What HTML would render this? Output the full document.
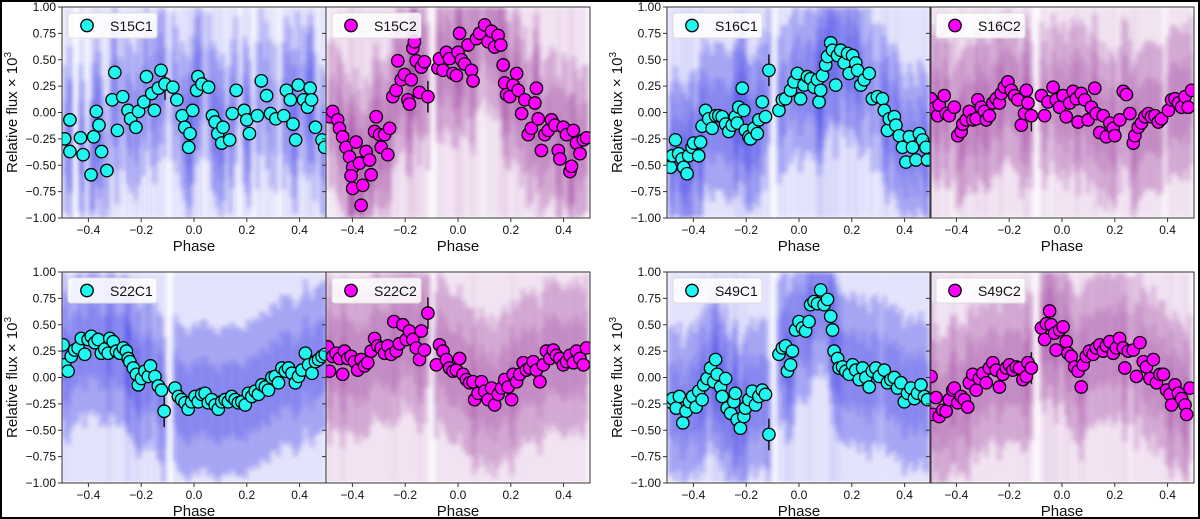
<!DOCTYPE html>
<html><head><meta charset="utf-8">
<style>
html,body{margin:0;padding:0;background:#fff;}
svg{display:block;}
text{font-family:"Liberation Sans","DejaVu Sans",sans-serif;fill:#111;}
</style></head>
<body>
<svg id="chart" width="1200" height="519" viewBox="0 0 1200 519" xmlns="http://www.w3.org/2000/svg">
<defs>
<filter id="blur" x="-5%" y="-5%" width="110%" height="110%"><feGaussianBlur stdDeviation="2"/></filter>
</defs>
<rect x="0" y="0" width="1200" height="519" fill="#fff"/>
</svg>
<script>
// ---- data: phase / relative flux arrays per panel ----
const S15C1_phase=[-0.49,-0.47,-0.47,-0.43,-0.42,-0.39,-0.38,-0.37,-0.36,-0.35,-0.33,-0.31,-0.30,-0.29,-0.27,-0.25,-0.24,-0.22,-0.21,-0.19,-0.18,-0.16,-0.15,-0.135,-0.125,-0.11,-0.08,-0.065,-0.045,-0.035,-0.02,-0.015,-0.005,0.01,0.015,0.03,0.055,0.07,0.08,0.09,0.105,0.11,0.135,0.145,0.16,0.19,0.2,0.21,0.24,0.255,0.275,0.29,0.31,0.34,0.35,0.365,0.375,0.385,0.395,0.415,0.43,0.44,0.445,0.46,0.485,0.495];
const S15C1_flux=[-0.25,-0.07,-0.37,-0.24,-0.40,-0.59,-0.23,0.01,-0.12,-0.37,-0.55,0.12,0.38,-0.17,0.15,0.02,-0.06,-0.14,0.01,0.10,0.34,0.18,0.02,0.23,0.40,0.27,0.24,0.12,-0.03,-0.14,-0.33,-0.20,0.02,0.21,0.34,0.27,0.24,-0.03,-0.09,-0.20,-0.29,-0.14,-0.26,-0.01,0.21,0.02,-0.07,-0.2,-0.03,0.3,0.16,-0.01,-0.06,-0.03,0.21,0.12,-0.11,-0.26,0.26,0.12,0.05,0.23,0.12,-0.14,-0.26,-0.33];

const S15C2_phase=[-0.487,-0.475,-0.456,-0.449,-0.437,-0.424,-0.411,-0.399,-0.405,-0.399,-0.386,-0.373,-0.367,-0.361,-0.348,-0.335,-0.329,-0.316,-0.31,-0.297,-0.291,-0.278,-0.266,-0.259,-0.247,-0.234,-0.228,-0.215,-0.203,-0.19,-0.184,-0.177,-0.171,-0.165,-0.158,-0.146,-0.139,-0.127,-0.114,-0.076,-0.07,-0.057,-0.044,-0.032,-0.019,-0.006,0,0.006,0.013,0.025,0.038,0.051,0.057,0.07,0.082,0.101,0.114,0.127,0.139,0.152,0.162,0.171,0.177,0.184,0.196,0.209,0.222,0.228,0.241,0.253,0.266,0.278,0.291,0.297,0.304,0.316,0.329,0.342,0.354,0.367,0.38,0.386,0.399,0.411,0.424,0.43,0.437,0.449,0.462,0.475,0.487];
const S15C2_flux=[-0.04,0.01,-0.07,-0.15,-0.23,-0.33,-0.42,-0.52,-0.6,-0.72,-0.28,-0.48,-0.88,-0.69,-0.37,-0.45,-0.59,-0.18,-0.04,-0.21,-0.33,-0.21,-0.4,-0.15,0.15,0.21,0.49,0.31,0.36,0.12,0.08,0.31,0.61,0.67,0.49,0.19,0.43,0.48,0.15,0.42,0.51,0.40,0.57,0.51,0.37,0.35,0.57,0.75,0.5,0.46,0.64,0.4,0.3,0.7,0.75,0.83,0.67,0.77,0.62,0.73,0.64,0.45,0.28,0.17,0.15,0.26,0.37,0.21,-0.01,0.12,-0.21,-0.15,0.09,0.23,-0.06,-0.36,-0.21,-0.17,-0.07,-0.12,-0.36,-0.44,-0.14,-0.21,-0.56,-0.51,-0.17,-0.29,-0.39,-0.26,-0.24];

const S16C1_phase=[-0.487,-0.48,-0.468,-0.456,-0.443,-0.437,-0.424,-0.418,-0.405,-0.399,-0.38,-0.373,-0.367,-0.354,-0.342,-0.329,-0.316,-0.304,-0.291,-0.278,-0.266,-0.253,-0.241,-0.234,-0.228,-0.215,-0.209,-0.203,-0.19,-0.184,-0.171,-0.158,-0.152,-0.139,-0.127,-0.114,-0.076,-0.063,-0.051,-0.032,-0.019,-0.006,0.006,0.019,0.032,0.044,0.057,0.07,0.076,0.082,0.089,0.101,0.108,0.12,0.127,0.139,0.146,0.158,0.171,0.184,0.19,0.203,0.215,0.222,0.234,0.247,0.266,0.278,0.297,0.316,0.323,0.335,0.342,0.361,0.367,0.38,0.392,0.405,0.418,0.43,0.443,0.456,0.468,0.481,0.487];
const S16C1_flux=[-0.52,-0.41,-0.26,-0.39,-0.44,-0.52,-0.58,-0.41,-0.33,-0.29,-0.41,-0.28,-0.13,0.02,-0.06,-0.15,-0.03,-0.03,-0.04,-0.11,-0.18,-0.12,-0.04,-0.1,0.05,0.23,0.02,-0.17,-0.23,-0.25,-0.15,-0.2,-0.07,0.1,-0.04,0.4,0.02,0.12,0.13,0.21,0.29,0.37,0.13,0.26,0.34,0.32,0.24,0.31,0.1,0.21,0.35,0.45,0.53,0.66,0.59,0.26,0.54,0.59,0.47,0.56,0.37,0.54,0.47,0.4,0.26,0.31,0.37,0.13,0.15,0.13,0.02,-0.17,-0.06,-0.04,-0.12,-0.22,-0.33,-0.47,-0.23,-0.33,-0.45,-0.2,-0.26,-0.33,-0.45];

const S16C2_phase=[-0.496,-0.484,-0.471,-0.465,-0.446,-0.439,-0.427,-0.408,-0.395,-0.382,-0.376,-0.363,-0.351,-0.338,-0.325,-0.319,-0.306,-0.294,-0.287,-0.275,-0.262,-0.249,-0.237,-0.23,-0.218,-0.205,-0.192,-0.18,-0.167,-0.154,-0.142,-0.135,-0.129,-0.116,-0.078,-0.066,-0.053,-0.034,-0.022,-0.009,0.004,0.016,0.029,0.042,0.054,0.061,0.073,0.086,0.099,0.111,0.124,0.13,0.143,0.156,0.168,0.181,0.194,0.2,0.219,0.232,0.244,0.257,0.27,0.276,0.289,0.301,0.314,0.327,0.339,0.352,0.365,0.377,0.403,0.415,0.428,0.441,0.453,0.466,0.478,0.491];
const S16C2_flux=[0.13,0.04,-0.03,0.07,0.16,-0.01,-0.03,0.05,-0.22,-0.18,-0.11,-0.07,0.01,-0.07,-0.06,0.12,0.05,0.01,-0.07,-0.03,0.09,0.13,0.09,0.18,0.24,0.29,0.21,0.16,0.12,-0.12,-0.01,0.21,0.09,-0.03,0.16,-0.03,0.1,0.24,0.12,0.05,0.16,-0.04,0.09,0.2,0.13,-0.09,0.18,0.12,-0.07,0.05,0.23,-0.01,-0.19,-0.03,-0.23,-0.1,-0.15,-0.22,-0.07,0.2,0.17,-0.01,-0.29,-0.22,-0.14,-0.1,-0.04,-0.01,-0.04,-0.03,-0.09,-0.06,0.02,0.12,0.13,0.09,0.05,0.15,0.05,0.21];

const S22C1_phase=[-0.496,-0.49,-0.477,-0.465,-0.452,-0.439,-0.427,-0.414,-0.401,-0.389,-0.376,-0.363,-0.351,-0.338,-0.325,-0.319,-0.306,-0.294,-0.281,-0.268,-0.256,-0.249,-0.243,-0.23,-0.218,-0.211,-0.199,-0.186,-0.173,-0.165,-0.148,-0.135,-0.123,-0.113,-0.072,-0.059,-0.047,-0.034,-0.022,-0.009,0.004,0.016,0.029,0.042,0.054,0.067,0.08,0.092,0.105,0.118,0.13,0.143,0.156,0.168,0.181,0.194,0.206,0.219,0.232,0.244,0.257,0.27,0.282,0.295,0.308,0.32,0.333,0.346,0.358,0.371,0.384,0.396,0.409,0.422,0.434,0.447,0.46,0.472,0.485,0.497];
const S22C1_flux=[0.31,0.12,0.06,0.2,0.26,0.28,0.37,0.22,0.36,0.39,0.33,0.36,0.23,0.27,0.23,0.37,0.34,0.25,0.23,0.28,0.25,0.18,0.15,0.09,0.03,-0.07,-0.01,0.06,0.01,0.11,0.01,-0.08,-0.12,-0.32,-0.1,-0.18,-0.21,-0.24,-0.3,-0.23,-0.18,-0.23,-0.16,-0.15,-0.24,-0.21,-0.26,-0.3,-0.23,-0.21,-0.23,-0.18,-0.21,-0.24,-0.23,-0.26,-0.15,-0.18,-0.13,-0.16,-0.07,-0.09,-0.12,0.0,0.01,-0.05,0.09,0.06,0.09,0.04,-0.05,0.01,0.07,0.23,0.12,0.04,0.15,0.17,0.2,0.22];

const S22C2_phase=[-0.494,-0.487,-0.475,-0.462,-0.449,-0.437,-0.43,-0.418,-0.405,-0.392,-0.38,-0.367,-0.354,-0.342,-0.329,-0.316,-0.304,-0.291,-0.278,-0.266,-0.253,-0.243,-0.234,-0.222,-0.209,-0.196,-0.184,-0.171,-0.158,-0.146,-0.139,-0.127,-0.114,-0.082,-0.07,-0.057,-0.044,-0.032,-0.019,-0.006,0.006,0.019,0.032,0.044,0.057,0.063,0.076,0.089,0.101,0.114,0.127,0.139,0.152,0.165,0.177,0.19,0.203,0.209,0.222,0.234,0.247,0.259,0.272,0.285,0.297,0.31,0.323,0.335,0.348,0.361,0.373,0.386,0.399,0.411,0.424,0.437,0.449,0.462,0.475,0.487];
const S22C2_flux=[0.29,0.06,0.2,0.23,0.18,0.03,0.25,0.18,0.2,0.15,0.07,0.17,0.11,0.14,0.25,0.37,0.3,0.28,0.23,0.3,0.22,0.53,0.25,0.32,0.5,0.36,0.44,0.36,0.28,0.17,0.44,0.26,0.61,0.12,0.31,0.25,0.17,0.09,0.06,0.07,0.18,0.03,-0.02,-0.05,-0.04,-0.21,-0.15,-0.04,-0.13,-0.21,-0.1,-0.26,-0.16,-0.1,-0.02,-0.09,-0.21,0.03,-0.04,0.03,0.14,0.07,0.09,0.15,0.07,-0.04,0.12,0.25,0.18,0.26,0.21,0.18,0.12,0.15,0.21,0.14,0.25,0.18,0.12,0.28];

const S49C1_phase=[-0.49,-0.478,-0.465,-0.453,-0.44,-0.428,-0.415,-0.403,-0.39,-0.38,-0.367,-0.361,-0.348,-0.335,-0.323,-0.316,-0.31,-0.297,-0.291,-0.278,-0.272,-0.259,-0.247,-0.241,-0.234,-0.222,-0.209,-0.203,-0.19,-0.177,-0.165,-0.152,-0.139,-0.127,-0.114,-0.076,-0.063,-0.051,-0.044,-0.032,-0.025,-0.013,0,0.013,0.025,0.038,0.044,0.057,0.07,0.082,0.095,0.108,0.12,0.127,0.133,0.146,0.152,0.165,0.177,0.19,0.203,0.215,0.228,0.241,0.253,0.266,0.278,0.291,0.304,0.323,0.335,0.348,0.361,0.373,0.386,0.399,0.411,0.424,0.437,0.449,0.462,0.475,0.487];
const S49C1_flux=[-0.23,-0.2,-0.29,-0.18,-0.43,-0.32,-0.23,-0.18,-0.28,-0.13,-0.21,-0.07,-0.01,0.09,-0.04,0.17,0.03,-0.09,-0.18,-0.01,-0.29,-0.34,-0.23,-0.15,-0.4,-0.48,-0.37,-0.29,-0.21,-0.13,-0.26,-0.18,-0.12,-0.16,-0.54,0.22,0.28,0.3,0.06,0.12,0.25,0.45,0.53,0.47,0.44,0.53,0.69,0.72,0.7,0.83,0.69,0.74,0.58,0.45,0.25,0.18,0.09,0.1,0.06,0.03,0.12,0.07,-0.02,0.09,0.0,-0.09,0.06,0.09,0.01,0.07,-0.05,-0.02,0.0,-0.1,-0.05,-0.23,-0.15,-0.1,-0.2,-0.15,-0.07,-0.18,-0.21];

const S49C2_phase=[-0.496,-0.49,-0.477,-0.465,-0.452,-0.439,-0.427,-0.414,-0.408,-0.395,-0.382,-0.37,-0.357,-0.351,-0.338,-0.325,-0.313,-0.3,-0.287,-0.275,-0.262,-0.249,-0.237,-0.224,-0.211,-0.199,-0.186,-0.173,-0.161,-0.148,-0.135,-0.129,-0.116,-0.078,-0.066,-0.059,-0.047,-0.041,-0.028,-0.022,-0.009,0.004,0.016,0.023,0.035,0.048,0.061,0.073,0.08,0.092,0.104,0.118,0.13,0.143,0.156,0.168,0.181,0.194,0.206,0.218,0.232,0.238,0.251,0.27,0.282,0.295,0.308,0.32,0.333,0.346,0.358,0.371,0.384,0.396,0.409,0.415,0.428,0.441,0.453,0.466,0.472,0.485];
const S49C2_flux=[0.01,-0.35,-0.19,-0.37,-0.31,-0.32,-0.21,-0.12,-0.1,-0.24,-0.18,-0.21,-0.28,-0.05,0.03,-0.12,-0.01,0.04,-0.05,0.09,0.14,0.07,-0.09,0.03,0.09,0.12,0.07,0.1,0.09,-0.02,0.01,0.14,0.09,0.47,0.36,0.51,0.63,0.5,0.42,0.26,0.45,0.48,0.34,0.23,0.2,0.1,0.06,-0.09,0.12,0.2,0.25,0.22,0.28,0.31,0.25,0.3,0.34,0.23,0.28,0.37,0.28,0.09,0.25,0.26,0.01,0.33,0.15,0.1,-0.01,0.17,-0.05,0.03,0.03,-0.12,-0.16,-0.26,-0.07,-0.15,-0.2,-0.26,-0.35,-0.1];

const xTicks=[-0.4,-0.2,0.0,0.2,0.4];
const xTickLabels=["\u22120.4","\u22120.2","0.0","0.2","0.4"];
const yTicks=[1,0.75,0.5,0.25,0,-0.25,-0.5,-0.75,-1];
const yTickLabels=["1.00","0.75","0.50","0.25","0.00","\u22120.25","\u22120.50","\u22120.75","\u22121.00"];
const labels=["S15C1","S15C2","S16C1","S16C2","S22C1","S22C2","S49C1","S49C2"];

// ---- layout ----
const NS="http://www.w3.org/2000/svg";
const svg=document.getElementById('chart');
function mk(tag,attrs,parent){const e=document.createElementNS(NS,tag);for(const k in attrs)e.setAttribute(k,attrs[k]);(parent||svg).appendChild(e);return e;}
const W=264,H=211;
const panels=[
 {lab:labels[0],ph:S15C1_phase,fl:S15C1_flux,x0:62,y0:7,c1:true,first:true},
 {lab:labels[1],ph:S15C2_phase,fl:S15C2_flux,x0:326,y0:7,c1:false,first:false},
 {lab:labels[2],ph:S16C1_phase,fl:S16C1_flux,x0:667,y0:7,c1:true,first:true},
 {lab:labels[3],ph:S16C2_phase,fl:S16C2_flux,x0:930,y0:7,c1:false,first:false},
 {lab:labels[4],ph:S22C1_phase,fl:S22C1_flux,x0:62,y0:272,c1:true,first:true},
 {lab:labels[5],ph:S22C2_phase,fl:S22C2_flux,x0:326,y0:272,c1:false,first:false},
 {lab:labels[6],ph:S49C1_phase,fl:S49C1_flux,x0:667,y0:272,c1:true,first:true},
 {lab:labels[7],ph:S49C2_phase,fl:S49C2_flux,x0:930,y0:272,c1:false,first:false}
];

panels.forEach((p,pi)=>{
  const xs=v=>p.x0+(v+0.5)*W;
  const ys=v=>p.y0+(1-v)/2*H;
  const g=mk('g',{});
  
  
  const clip='clip'+pi;
  const cp=mk('clipPath',{id:clip},g);mk('rect',{x:p.x0,y:p.y0,width:W,height:H},cp);
  // background cloud derived from binned data
  const cloud=mk('g',{'clip-path':'url(#'+clip+')'},g);
  
  
  const inner=mk('g',{filter:'url(#blur)'},cloud);
  const col=p.c1?'rgb(40,40,225)':'rgb(150,45,150)';
  p.ph.forEach((ph,i)=>{
    const v=p.fl[i];
    mk('rect',{x:xs(ph)-3,y:p.y0,width:6,height:H,fill:col,opacity:0.08},inner);
    const top=Math.min(1,v+0.7),bot=Math.max(-1,v-0.7);
    mk('rect',{x:xs(ph)-3,y:ys(top),width:6,height:ys(bot)-ys(top),fill:col,opacity:0.2},inner);
    const t2=Math.min(1,v+0.35),b2=Math.max(-1,v-0.35);
    mk('rect',{x:xs(ph)-3,y:ys(t2),width:6,height:ys(b2)-ys(t2),fill:col,opacity:0.15},inner);
  });
  // error bar at the outlier bin nearest phase -0.114
  let bi=0,bd=9;p.ph.forEach((ph,i)=>{const d=Math.abs(ph+0.114);if(d<bd){bd=d;bi=i;}});
  const eb=mk('line',{x1:xs(p.ph[bi]),x2:xs(p.ph[bi]),y1:ys(p.fl[bi]+0.15),y2:ys(p.fl[bi]-0.15),stroke:'#111','stroke-width':1.5},g);
  
  
  // binned points
  const pts=mk('g',{'clip-path':'url(#'+clip+')'},g);
  
  
  p.ph.forEach((ph,i)=>{
    const c=mk('circle',{cx:xs(ph),cy:ys(p.fl[i]),r:6.2,fill:p.c1?'#1ff7f0':'#ff00ff',stroke:'#000','stroke-width':1.3},pts);
    
    
  });
  // axes frame
  const ax=mk('rect',{x:p.x0,y:p.y0,width:W,height:H,fill:'none',stroke:'#333','stroke-width':1},g);
  
  
  // x ticks
  xTicks.forEach((t,i)=>{
    mk('line',{x1:xs(t),x2:xs(t),y1:p.y0+H,y2:p.y0+H+4,stroke:'#333'},g);
    const tl=mk('text',{x:xs(t),y:p.y0+H+16,'text-anchor':'middle','font-size':12},g);
    tl.textContent=xTickLabels[i];
    
    
  });
  const xl=mk('text',{x:p.x0+W/2,y:p.y0+H+33,'text-anchor':'middle','font-size':15},g);
  xl.textContent='Phase';
  
  
  // y ticks
  yTicks.forEach((t,i)=>{
    mk('line',{x1:p.x0-4,x2:p.x0,y1:ys(t),y2:ys(t),stroke:'#333'},g);
    if(p.first){
      const yl=mk('text',{x:p.x0-6,y:ys(t)+4,'text-anchor':'end','font-size':12},g);
      yl.textContent=yTickLabels[i];
      
      
    }
  });
  if(p.first){
    const cx=p.x0-45,cy=p.y0+H/2;
    const yt=mk('text',{x:cx,y:cy,'text-anchor':'middle','font-size':15,transform:'rotate(-90 '+cx+' '+cy+')'},g);
    yt.innerHTML='Relative flux \u00d7 10<tspan dy="-6" font-size="10">3</tspan>';
    
    
  }
  // legend
  const lg=mk('g',{},g);
  
  
  mk('rect',{x:p.x0+6,y:p.y0+6,width:89,height:25,rx:3,fill:'#fff','fill-opacity':0.85,stroke:'#ddd'},lg);
  mk('circle',{cx:p.x0+25,cy:p.y0+18.5,r:6.2,fill:p.c1?'#1ff7f0':'#ff00ff',stroke:'#000','stroke-width':1.3},lg);
  const lt=mk('text',{x:p.x0+48,y:p.y0+24,'font-size':14},lg);
  lt.textContent=p.lab;
  
  
});
// outer black frame (drawn last)
const frame=mk('rect',{x:1,y:1,width:1198,height:517,fill:'none',stroke:'#000','stroke-width':2});


</script>
</body></html>
